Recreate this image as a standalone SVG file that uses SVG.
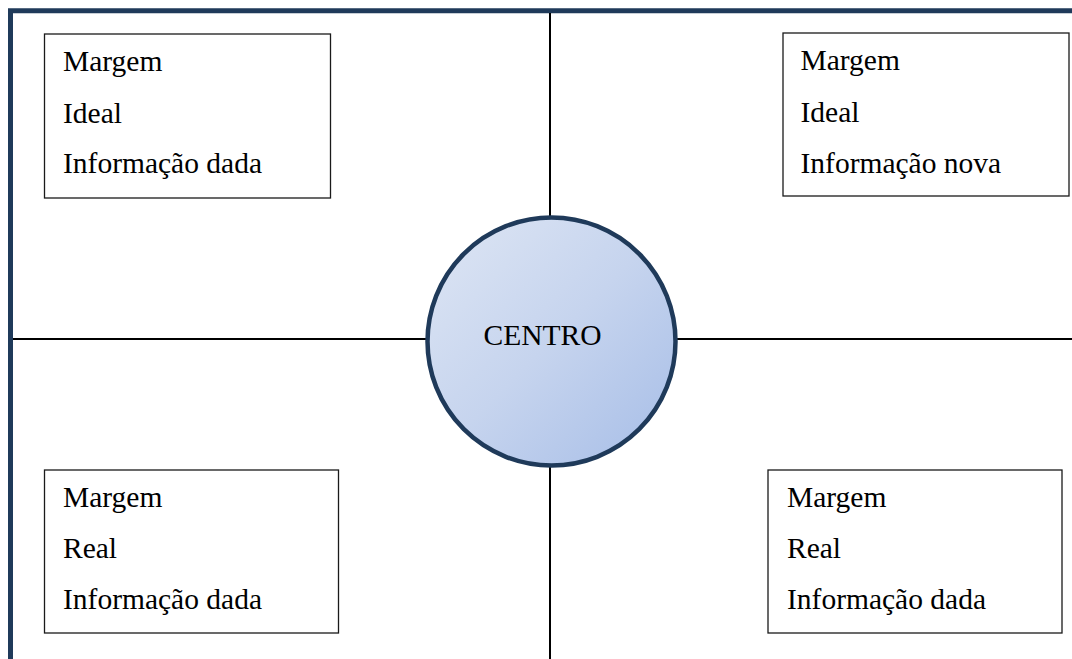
<svg xmlns="http://www.w3.org/2000/svg" width="1072" height="659" viewBox="0 0 1072 659">
<defs>
<style>
.box{fill:#fff;stroke:#1a1a1a;stroke-width:1.3}
.t{font-family:"Liberation Serif","DejaVu Serif","Times New Roman",Times,serif;font-size:29.5px;fill:#000}
.ln{stroke:#000;stroke-width:2;fill:none}
</style>
<linearGradient id="g" x1="0" y1="0" x2="1" y2="1">
<stop offset="0" stop-color="#DEE6F4"/>
<stop offset="0.5" stop-color="#C6D4EE"/>
<stop offset="1" stop-color="#A6BDE7"/>
</linearGradient>
</defs>
<rect width="1072" height="659" fill="#fff"/>
<rect id="frame" x="10.5" y="10.75" width="1100" height="700" fill="none" stroke="#1F3A5A" stroke-width="5"/>
<g id="connectors">
<line class="ln" x1="550" y1="13" x2="550" y2="659"/>
<line class="ln" x1="13" y1="339" x2="1072" y2="339"/>
</g>
<g id="top-left">
<rect class="box" x="44.5" y="34" width="286" height="164"/>
<text class="t" font-family="Liberation Serif, serif" x="63" y="71">Margem</text>
<text class="t" font-family="Liberation Serif, serif" x="63" y="122.5">Ideal</text>
<text class="t" font-family="Liberation Serif, serif" x="63" y="173">Informação dada</text>
</g>
<g id="top-right">
<rect class="box" x="783" y="33" width="286" height="163"/>
<text class="t" font-family="Liberation Serif, serif" x="800.5" y="70">Margem</text>
<text class="t" font-family="Liberation Serif, serif" x="800.5" y="121.5">Ideal</text>
<text class="t" font-family="Liberation Serif, serif" x="800.5" y="172.5">Informação nova</text>
</g>
<g id="bottom-left">
<rect class="box" x="44.5" y="470" width="294" height="163"/>
<text class="t" font-family="Liberation Serif, serif" x="63" y="506.5">Margem</text>
<text class="t" font-family="Liberation Serif, serif" x="63" y="558">Real</text>
<text class="t" font-family="Liberation Serif, serif" x="63" y="609">Informação dada</text>
</g>
<g id="bottom-right">
<rect class="box" x="768" y="470" width="294" height="163"/>
<text class="t" font-family="Liberation Serif, serif" x="787" y="506.5">Margem</text>
<text class="t" font-family="Liberation Serif, serif" x="787" y="558">Real</text>
<text class="t" font-family="Liberation Serif, serif" x="787" y="609">Informação dada</text>
</g>
<g id="centro">
<circle cx="551.5" cy="341.5" r="124" fill="url(#g)" stroke="#1F3A5A" stroke-width="4.5"/>
<text class="t" font-family="Liberation Serif, serif" x="542.5" y="345" text-anchor="middle">CENTRO</text>
</g>
</svg>
